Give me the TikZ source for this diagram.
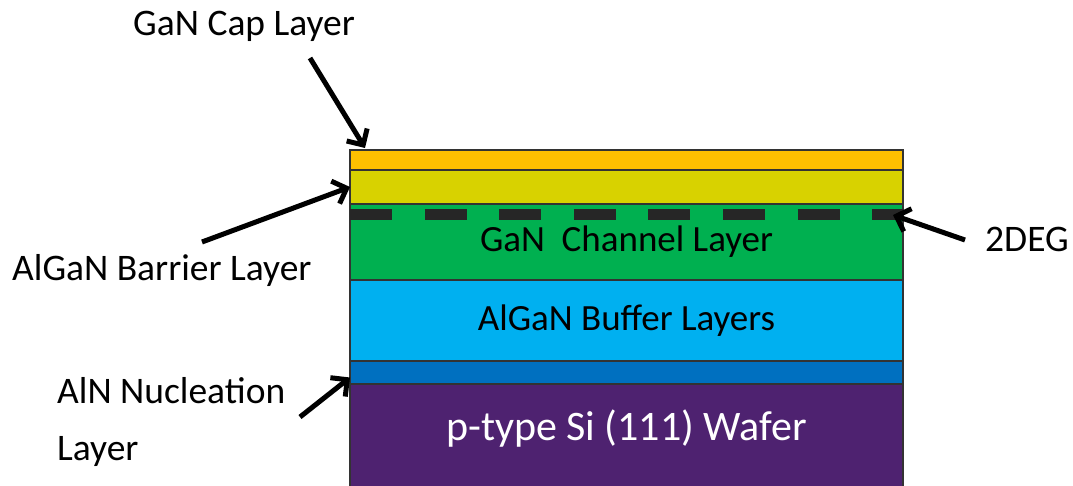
\documentclass[tikz,border=0pt]{standalone}
\usepackage{fontspec}
\setmainfont{Carlito}
\usetikzlibrary{positioning, arrows.meta}

\definecolor{capcol}{RGB}{255,192,0}
\definecolor{barriercol}{RGB}{216,210,0}
\definecolor{channelcol}{RGB}{0,176,80}
\definecolor{buffercol}{RGB}{0,176,240}
\definecolor{nuclcol}{RGB}{0,112,192}
\definecolor{wafercol}{RGB}{78,34,112}
\definecolor{degcol}{RGB}{38,38,38}

\tikzset{
  layer/.style={draw=black!80, line width=1.2pt, minimum width=553pt, inner sep=0pt, outer sep=0pt, font=\fontsize{37}{41}\selectfont},
  lbl/.style={font=\fontsize{37.5}{41}\selectfont, inner sep=0pt},
  pointer/.style={line width=5pt, -{Straight Barb[length=12pt,width=24pt,line width=5pt]}}
}

\begin{document}
\begin{tikzpicture}[x=1pt, y=-1pt, node distance=0pt]
            \useasboundingbox (0,0) rectangle (1073,486);
            % layer stack
            \node [layer, fill=capcol, minimum height=20pt] (cap) at (626.5,160) {};
            \node [layer, fill=barriercol, minimum height=34pt] [below=of cap] (barrier) {};
            \node [layer, fill=channelcol, minimum height=76pt] [below=of barrier] (channel) {GaN~~Channel Layer};
            \node [layer, fill=buffercol, minimum height=81pt] [below=of channel] (buffer) {AlGaN Buffer Layers};
            \node [layer, fill=nuclcol, minimum height=23pt] [below=of buffer] (nucl) {};
            % wafer runs on past the bottom edge
            \node [layer, fill=wafercol, minimum height=112pt, text depth=30pt, text=white, font=\fontsize{42}{46}\selectfont] [below=of nucl] (wafer) {p-type Si (111) Wafer};
            % 2DEG
            \draw [degcol, line width=11pt, dash pattern=on 42pt off 32.6pt]
                ([yshift=-11pt]channel.north west) -- ([yshift=-11pt]channel.north east);
            % labels
            \node [lbl, anchor=base west] (l_cap) at (133,36) {GaN Cap Layer};
            \node [lbl, anchor=base west] (l_bar) at (12,280) {AlGaN Barrier Layer};
            \node [lbl, anchor=base west] (l_deg) at (985,252) {2DEG};
            \node [lbl, anchor=base west] (l_nuc) at (57,403) {AlN Nucleation};
            \node [lbl, anchor=base west] (l_nuc2) at (57,460) {Layer};
            % arrows
            \coordinate (t_cap) at (310,58);
            \coordinate (t_bar) at (202,242);
            \coordinate (t_deg) at (965,240);
            \coordinate (t_nuc) at (300,417);
            \draw [pointer] (t_cap) -- ([xshift=15pt,yshift=2pt]cap.north west);
            \draw [pointer] (t_bar) -- (barrier.west);
            \draw [pointer] (t_deg) -- ([xshift=-10pt,yshift=-11pt]channel.north east);
            \draw [pointer] (t_nuc) -- ([yshift=-5pt]nucl.west);
\end{tikzpicture}
\end{document}
